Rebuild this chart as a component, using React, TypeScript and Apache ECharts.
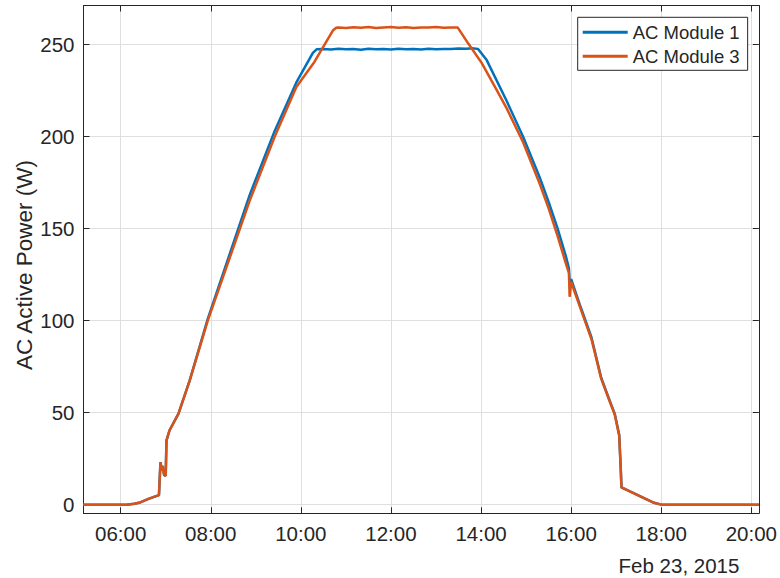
import React, { useEffect, useRef } from "react";
import * as echarts from "echarts";

// Sample times (HH:MM) and AC active power (W) for each module.
const timesModule1 = [
  "05:10", "06:08", "06:18", "06:26", "06:37", "06:51", "06:53", "06:55", "06:56", "06:58",
  "07:00", "07:01", "07:05", "07:17", "07:32", "07:56", "08:52", "09:25", "09:54", "10:16",
  "10:21", "10:30", "10:40", "10:50", "11:00", "11:10", "11:20", "11:30", "11:40", "11:50",
  "12:00", "12:10", "12:20", "12:30", "12:40", "12:50", "13:00", "13:10", "13:20", "13:30",
  "13:40", "13:50", "13:56", "14:07", "14:34", "14:56", "15:18", "15:30", "15:42", "15:53",
  "15:57", "15:58", "16:00", "16:13", "16:27", "16:40", "16:50", "16:58", "17:04", "17:06",
  "17:07", "17:49", "18:00", "20:10",
];
const powerModule1 = [
  0, 0, 0.5, 1.2, 3.1, 5.2, 23, 18.5, 21, 15.8,
  16, 34.8, 40.3, 49.5, 67.5, 101, 168.5, 203, 229.5, 245.5,
  247.5, 247.7, 247.4, 247.8, 247.5, 247.7, 247.3, 247.8, 247.5, 247.6,
  247.4, 247.8, 247.5, 247.7, 247.4, 247.8, 247.5, 247.7, 247.6, 247.9,
  247.8, 248.0, 247.7, 242, 219.5, 200, 178, 164.5, 150, 135,
  128.5, 121, 122.5, 107, 91, 69, 58, 49.5, 38, 20,
  9.4, 1.2, 0, 0,
];

const timesModule3 = [
  "05:10", "06:08", "06:18", "06:26", "06:37", "06:51", "06:53", "06:55", "06:56", "06:58",
  "07:00", "07:01", "07:05", "07:17", "07:32", "07:56", "08:52", "09:25", "09:54", "10:18",
  "10:43", "10:47", "10:50", "11:00", "11:10", "11:20", "11:30", "11:40", "11:50", "12:00",
  "12:10", "12:20", "12:30", "12:40", "12:50", "13:00", "13:10", "13:20", "13:29", "13:43",
  "14:01", "14:20", "14:34", "14:56", "15:18", "15:30", "15:42", "15:53", "15:57", "15:58",
  "16:00", "16:13", "16:27", "16:40", "16:50", "16:58", "17:04", "17:06", "17:07", "17:49",
  "18:00", "20:10",
];
const powerModule3 = [
  0, 0, 0.5, 1.2, 3.1, 5.2, 23, 18.5, 21, 15.8,
  16, 34.8, 40.3, 49.5, 67.5, 100, 165.4, 199.8, 227, 240.6,
  257.9, 259.2, 259.4, 259.1, 259.5, 259.2, 259.6, 259.1, 259.4, 259.6,
  259.2, 259.5, 259.1, 259.4, 259.3, 259.6, 259.2, 259.4, 259.3, 250.6,
  240, 226, 215.5, 197, 174.5, 161, 146, 131, 126, 113,
  121, 106, 90, 68.5, 57.5, 49, 37.5, 20, 9.4, 1.2,
  0, 0,
];

// Axis ticks
const xTickHours = [6, 8, 10, 12, 14, 16, 18, 20];
const yTickValues = [0, 50, 100, 150, 200, 250];

const seriesNames = ["AC Module 1", "AC Module 3"];
const dateLabel = "Feb 23, 2015";
const yLabel = "AC Active Power (W)";

const X_MIN = 5.175;
const X_MAX = 20.166;
const Y_MIN = -4.7;
const Y_MAX = 271.3;

const FONT = "'Liberation Sans', Arial, Helvetica, sans-serif";
const INK = "#262626";
const GRID = "#dfdfdf";
const BLUE = "#0072BD";
const ORANGE = "#D95319";

const toHours = (s: string) => {
  const [h, m] = s.split(":").map(Number);
  return h + m / 60;
};
const pad2 = (n: number) => (n < 10 ? "0" + n : String(n));
const hourLabel = (v: number) => pad2(Math.round(v)) + ":00";

export default function App() {
  const ref = useRef<HTMLDivElement>(null);

  useEffect(() => {
    const chart = echarts.init(ref.current!, null, { renderer: "svg" });

    const m1 = timesModule1.map((t, i) => [toHours(t), powerModule1[i]]);
    const m3 = timesModule3.map((t, i) => [toHours(t), powerModule3[i]]);

    const axisLine = { show: true, onZero: false, lineStyle: { color: INK, width: 1 } };
    const tick = (values: number[]) => ({
      show: true,
      inside: true,
      length: 6,
      customValues: values,
      lineStyle: { color: INK },
    });

    chart.setOption({
      animation: false,
      backgroundColor: "#ffffff",
      grid: { left: 83.5, top: 5.5, right: 20.7, bottom: 64.7, containLabel: false },
      xAxis: [
        {
          type: "value",
          position: "bottom",
          min: X_MIN,
          max: X_MAX,
          axisLine,
          axisTick: tick(xTickHours),
          axisLabel: {
            customValues: xTickHours,
            formatter: hourLabel,
            color: INK,
            fontSize: 20.5,
            fontFamily: FONT,
            margin: 10,
          },
          splitLine: { show: true, lineStyle: { color: GRID, width: 1 } },
        },
        {
          type: "value",
          position: "top",
          min: X_MIN,
          max: X_MAX,
          axisLine,
          axisTick: tick(xTickHours),
          axisLabel: { show: false },
          splitLine: { show: false },
        },
      ],
      yAxis: [
        {
          type: "value",
          position: "left",
          min: Y_MIN,
          max: Y_MAX,
          axisLine,
          axisTick: tick(yTickValues),
          axisLabel: {
            customValues: yTickValues,
            color: INK,
            fontSize: 20.5,
            fontFamily: FONT,
            margin: 9,
          },
          splitLine: { show: true, lineStyle: { color: GRID, width: 1 } },
        },
        {
          type: "value",
          position: "right",
          min: Y_MIN,
          max: Y_MAX,
          axisLine,
          axisTick: tick(yTickValues),
          axisLabel: { show: false },
          splitLine: { show: false },
        },
      ],
      legend: {
        data: seriesNames.map((name) => ({ name, icon: "rect" })),
        orient: "vertical",
        left: 577.7,
        top: 17.3,
        itemWidth: 45,
        itemHeight: 3,
        itemGap: 4,
        padding: [5, 8, 4, 5],
        borderColor: INK,
        borderWidth: 1,
        backgroundColor: "#ffffff",
        selectedMode: false,
        textStyle: { color: INK, fontSize: 18.5, fontFamily: FONT, lineHeight: 20 },
      },
      series: [
        {
          name: seriesNames[0],
          type: "line",
          xAxisIndex: 0,
          yAxisIndex: 0,
          data: m1,
          symbol: "none",
          color: BLUE,
          lineStyle: { color: BLUE, width: 2.5 },
        },
        {
          name: seriesNames[1],
          type: "line",
          xAxisIndex: 0,
          yAxisIndex: 0,
          data: m3,
          symbol: "none",
          color: ORANGE,
          lineStyle: { color: ORANGE, width: 2.5 },
        },
      ],
      graphic: [
        {
          type: "text",
          x: 24,
          y: 265,
          rotation: Math.PI / 2,
          style: {
            text: yLabel,
            fill: INK,
            fontSize: 22.5,
            fontFamily: FONT,
            align: "center",
            verticalAlign: "middle",
          },
        },
        {
          type: "text",
          x: 679,
          y: 565,
          style: {
            text: dateLabel,
            fill: INK,
            fontSize: 20.5,
            fontFamily: FONT,
            align: "center",
            verticalAlign: "middle",
          },
        },
      ],
    });

    return () => chart.dispose();
  }, []);

  return (
    <div
      ref={ref}
      style={{ position: "fixed", left: 0, top: 0, width: 780, height: 578, background: "#ffffff" }}
    />
  );
}
